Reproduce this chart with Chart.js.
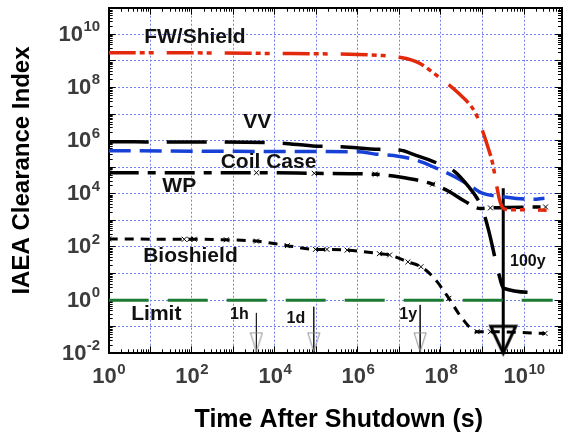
<!DOCTYPE html>
<html>
<head>
<meta charset="utf-8">
<script src="https://cdn.jsdelivr.net/npm/chart.js@4.4.1/dist/chart.umd.min.js"></script>
<style>
  html, body { margin: 0; padding: 0; background: #fff; }
  #wrap { width: 569px; height: 440px; }
</style>
</head>
<body>
<div id="wrap"><canvas id="chart" width="569" height="440"></canvas></div>
<script>
// ------------------- Data -------------------
// time after shutdown in seconds, clearance index values
const fwT = [1, 100, 1e4, 1e5, 1e6, 3.2e6, 1e7, 2e7, 3.2e7, 8.9e7, 2.5e8, 6.8e8, 1.05e9, 1.3e9, 1.75e9, 2.2e9, 2.6e9, 3.2e9, 5e9, 1e10, 3.5e10];
const fwV = [2e9, 2e9, 1.9e9, 1.85e9, 1.75e9, 1.62e9, 1.38e9, 1.07e9, 7.8e8, 2.45e8, 6.6e7, 1.07e7, 1.9e6, 6.8e5, 1.4e5, 1.95e4, 5.6e3, 2.8e3, 2.5e3, 2.5e3, 2.4e3];

const vvT = [1, 100, 1e4, 1e5, 4e5, 3.2e6, 1e7, 2.5e7, 8.3e7, 2.2e8, 4.7e8, 7.4e8, 9.8e8, 1.4e9, 2.4e9, 3.2e9, 2.6e10];
const vvV = [9e5, 8.9e5, 8.3e5, 6.2e5, 5.9e5, 4.7e5, 4.4e5, 2.8e5, 1.4e5, 6.6e4, 1.8e4, 6.8e3, 2.8e3, 430, 11.7, 2.8, 1.9];

const coilT = [1, 1.4e4, 1e6, 2.8e6, 9.3e6, 2.5e7, 6.8e7, 2.2e8, 5.6e8, 9.8e8, 3e9, 1.5e10, 3.1e10];
const coilV = [4.2e5, 3.9e5, 3.8e5, 3.1e5, 2.6e5, 1.86e5, 1.0e5, 4.3e4, 1.8e4, 1.05e4, 7.8e3, 6.2e3, 6.8e3];

const wpT = [1, 3.6e3, 8.9e4, 2.6e6, 9.3e6, 6.3e7, 1.6e8, 3.5e8, 8.9e8, 1.55e9, 3.3e10];
const wpV = [6.2e4, 6.2e4, 5.9e4, 5.4e4, 4.4e4, 2.3e4, 1.2e4, 5.6e3, 2.8e3, 2.95e3, 3.2e3];
const wpCalc = [1, 1, 1, 1, 0, 1, 1, 0, 0, 1, 1];

const bioT = [1, 66, 89, 115, 680, 3.6e3, 2e4, 9.5e4, 1.8e5, 5.5e5, 3.3e6, 5.8e6, 1.6e7, 3.3e7, 6.8e7, 1.55e8, 3.2e8, 7.4e8, 1.55e9, 3.2e10];
const bioV = [200, 195, 195, 195, 186, 166, 112, 81, 81, 76, 56, 50, 27.5, 18, 6.8, 1.17, 0.21, 0.065, 0.065, 0.056];
const bioCalc = [1, 1, 1, 1, 1, 1, 1, 1, 1, 1, 1, 1, 1, 1, 0, 1, 0, 1, 1, 1];

const limitT = [1, 4.9e10];
const limitV = [1, 1];

// time markers: 1 hour, 1 day, 1 year, 100 years
const markT = [3600, 86400, 3.156e7, 3.156e9];
const markTop = [0.33, 0.56, 0.66, 1.6e4];
const markTip = [0.0115, 0.0115, 0.0115, 0.01];

// axis ranges and labelled decades (tick labels are 10^exp)
const xMin = 1, xMax = 8.2e10;
const yMin = 1e-2, yMax = 1e11;
const xTickExps = [0, 2, 4, 6, 8, 10];
const yTickExps = [-2, 0, 2, 4, 6, 8, 10];

// ------------------- Helpers -------------------
const FONT = '"Liberation Sans", Arial, Helvetica, sans-serif';
const pairs = (ts, vs) => ts.map((t, i) => ({ x: t, y: vs[i] }));
const isDecade = v => Math.abs(Math.log10(v) - Math.round(Math.log10(v))) < 1e-6;

function logTicks(min, max, decadesOnly) {
    const out = [];
    const e0 = Math.floor(Math.log10(min)), e1 = Math.ceil(Math.log10(max));
    for (let e = e0; e <= e1; e++) {
        for (let m = 1; m <= 9; m++) {
            if (decadesOnly && m > 1) break;
            const v = m * Math.pow(10, e);
            if (v >= min * 0.999 && v <= max * 1.001) out.push({ value: v });
        }
    }
    return out;
}

// fixed axis box, and no extra edge padding for labels
function fixBox(size) {
    return s => {
        if (s.isHorizontal()) s.height = size; else s.width = size;
        s.paddingTop = s.paddingBottom = s.paddingLeft = s.paddingRight = 0;
    };
}

// an invisible axis that only draws inward tick marks on one frame edge
function tickAxis(position, min, max, decadesOnly, len, withBorder) {
    return {
        type: 'logarithmic', position, min, max, weight: -1,
        afterBuildTicks: s => { s.ticks = logTicks(min, max, decadesOnly); },
        afterFit: fixBox(0),
        grid: { drawOnChartArea: false, color: '#000', tickColor: '#000', tickLength: -len, tickWidth: 1 },
        border: { display: withBorder, color: '#000', width: 2 },
        ticks: { display: false }
    };
}

// open arrow head with its tip in the centre of the canvas
function arrowHead(w, h, color, lw) {
    const c = document.createElement('canvas');
    c.width = Math.ceil(w + lw * 2);
    c.height = Math.ceil((h + lw) * 2);
    const g = c.getContext('2d');
    const cx = c.width / 2, tip = c.height / 2;
    g.strokeStyle = color;
    g.lineWidth = lw;
    g.lineJoin = 'miter';
    g.beginPath();
    g.moveTo(cx - w / 2, tip - h);
    g.lineTo(cx, tip);
    g.lineTo(cx + w / 2, tip - h);
    g.closePath();
    g.stroke();
    return c;
}
const thinHead = arrowHead(12, 19, '#8c8c8c', 1);
const bigHead = arrowHead(25, 27, '#000', 3);

// ------------------- Text notes -------------------
const notes = [
    { text: 'FW/Shield', t: 119, v: 7.8e9, size: 21 },
    { text: 'VV', t: 3750, v: 5.0e6, size: 21 },
    { text: 'Coil Case', t: 7050, v: 1.6e5, size: 21 },
    { text: 'WP', t: 50, v: 2.0e4, size: 21 },
    { text: 'Bioshield', t: 93, v: 44, size: 21 },
    { text: 'Limit', t: 14, v: 0.29, size: 21 },
    { text: '1h', t: 1400, v: 0.275, size: 16 },
    { text: '1d', t: 3.2e4, v: 0.21, size: 16 },
    { text: '1y', t: 1.63e7, v: 0.275, size: 16 },
    { text: '100y', t: 1.23e10, v: 27, size: 16 }
];

const notePlugin = {
    id: 'notes',
    afterDatasetsDraw(chart) {
        const { ctx, scales: { x, y } } = chart;
        ctx.save();
        ctx.fillStyle = '#111';
        ctx.textAlign = 'center';
        ctx.textBaseline = 'middle';
        notes.forEach(n => {
            ctx.font = `bold ${n.size}px ${FONT}`;
            ctx.fillText(n.text, x.getPixelForValue(n.t), y.getPixelForValue(n.v));
        });
        ctx.restore();
    }
};

// ------------------- Power-of-ten tick labels -------------------
const MAIN_FONT = `bold 22px ${FONT}`;
const SUP_FONT = `bold 15px ${FONT}`;

const powerLabels = {
    id: 'powerLabels',
    afterDraw(chart) {
        const { ctx, scales: { x, y } } = chart;
        ctx.save();
        ctx.fillStyle = '#3c3c3c';
        ctx.textAlign = 'left';
        ctx.textBaseline = 'alphabetic';

        const widths = e => {
            ctx.font = MAIN_FONT;
            const a = ctx.measureText('10').width;
            ctx.font = SUP_FONT;
            return [a, ctx.measureText(String(e)).width];
        };
        const put = (e, left, base) => {
            const [a] = widths(e);
            ctx.font = MAIN_FONT;
            ctx.fillText('10', left, base);
            ctx.font = SUP_FONT;
            ctx.fillText(String(e), left + a + 0.5, base - 9.5);
        };

        xTickExps.forEach(e => {
            const [a, b] = widths(e);
            const px = x.getPixelForValue(Math.pow(10, e));
            put(e, px - (a + b) / 2, x.top + 30);
        });
        yTickExps.forEach(e => {
            const [a, b] = widths(e);
            const py = y.getPixelForValue(Math.pow(10, e));
            put(e, y.right - 9 - (a + b), py + 6.5);
        });
        ctx.restore();
    }
};

// ------------------- Datasets -------------------
const curve = (label, ts, vs, color, width, dash, extra) => Object.assign({
    label, data: pairs(ts, vs), borderColor: color, backgroundColor: color,
    borderWidth: width, borderDash: dash, borderJoinStyle: 'round',
    pointRadius: 0, cubicInterpolationMode: 'monotone', fill: false
}, extra || {});

const crosses = flags => ({
    pointStyle: 'crossRot',
    pointRadius: ctx => flags[ctx.dataIndex] ? 3.5 : 0,
    pointBorderWidth: 1,
    pointBorderColor: '#000'
});

const datasets = [
    curve('FW/Shield', fwT, fwV, '#e2290c', 3.5, [27, 4, 5, 4, 5, 13]),
    curve('VV', vvT, vvV, '#000', 3.5, [40, 18]),
    curve('Coil Case', coilT, coilV, '#1740d6', 3.5, [22, 9]),
    curve('WP', wpT, wpV, '#000', 3.5, [30, 9, 8, 9], crosses(wpCalc)),
    curve('Bioshield', bioT, bioV, '#000', 3, [9, 7], crosses(bioCalc)),
    curve('Limit', limitT, limitV, '#1b7b32', 3, [40, 19])
];

markT.forEach((t, i) => {
    const big = i === markT.length - 1;
    datasets.push({
        label: 'mark' + i,
        data: [{ x: t, y: markTop[i] }, { x: t, y: markTip[i] }],
        borderColor: big ? '#000' : '#222',
        borderWidth: big ? 3 : 1,
        tension: 0,
        pointStyle: ctx => ctx.dataIndex === 1 ? (big ? bigHead : thinHead) : 'circle',
        pointRadius: ctx => ctx.dataIndex === 1 ? 1 : 0,
        clip: false
    });
});

// ------------------- Chart -------------------
const gridColor = c => isDecade(c.tick.value) ? '#7383ee' : 'rgba(0,0,0,0)';
const minorTick = c => isDecade(c.tick.value) ? 'rgba(0,0,0,0)' : '#000';

new Chart(document.getElementById('chart'), {
    type: 'line',
    data: { datasets },
    plugins: [notePlugin, powerLabels],
    options: {
        responsive: false,
        animation: false,
        devicePixelRatio: 1,
        layout: { padding: { top: 7.7, right: 1.3, left: 0, bottom: 0 } },
        plugins: { legend: { display: false }, tooltip: { enabled: false } },
        scales: {
            x: {
                type: 'logarithmic', position: 'bottom', min: xMin, max: xMax,
                afterBuildTicks: s => { s.ticks = logTicks(xMin, xMax); },
                afterFit: fixBox(86.7),
                grid: { color: gridColor, lineWidth: 1, tickColor: minorTick, tickLength: -4, tickWidth: 1 },
                border: { color: '#000', width: 2, dash: [2, 2] },
                ticks: { display: false },
                title: { display: true, text: ' Time After Shutdown (s)', color: '#000', font: { family: FONT, size: 25, weight: 'bold' }, padding: { top: 0, bottom: 5 } }
            },
            y: {
                type: 'logarithmic', position: 'left', min: yMin, max: yMax,
                afterBuildTicks: s => { s.ticks = logTicks(yMin, yMax); },
                afterFit: fixBox(108.7),
                grid: { color: gridColor, lineWidth: 1, tickColor: minorTick, tickLength: -4, tickWidth: 1 },
                border: { color: '#000', width: 2, dash: [2, 2] },
                ticks: { display: false },
                title: { display: true, text: '   IAEA Clearance Index', color: '#000', font: { family: FONT, size: 24, weight: 'bold' }, padding: { top: 7.6, bottom: 0 } }
            },
            xMajor: tickAxis('bottom', xMin, xMax, true, 7, false),
            yMajor: tickAxis('left', yMin, yMax, true, 7, false),
            xTop: tickAxis('top', xMin, xMax, false, 4, true),
            xTopMajor: tickAxis('top', xMin, xMax, true, 7, false),
            yRight: tickAxis('right', yMin, yMax, false, 4, true),
            yRightMajor: tickAxis('right', yMin, yMax, true, 7, false)
        }
    }
});
</script>
</body>
</html>
